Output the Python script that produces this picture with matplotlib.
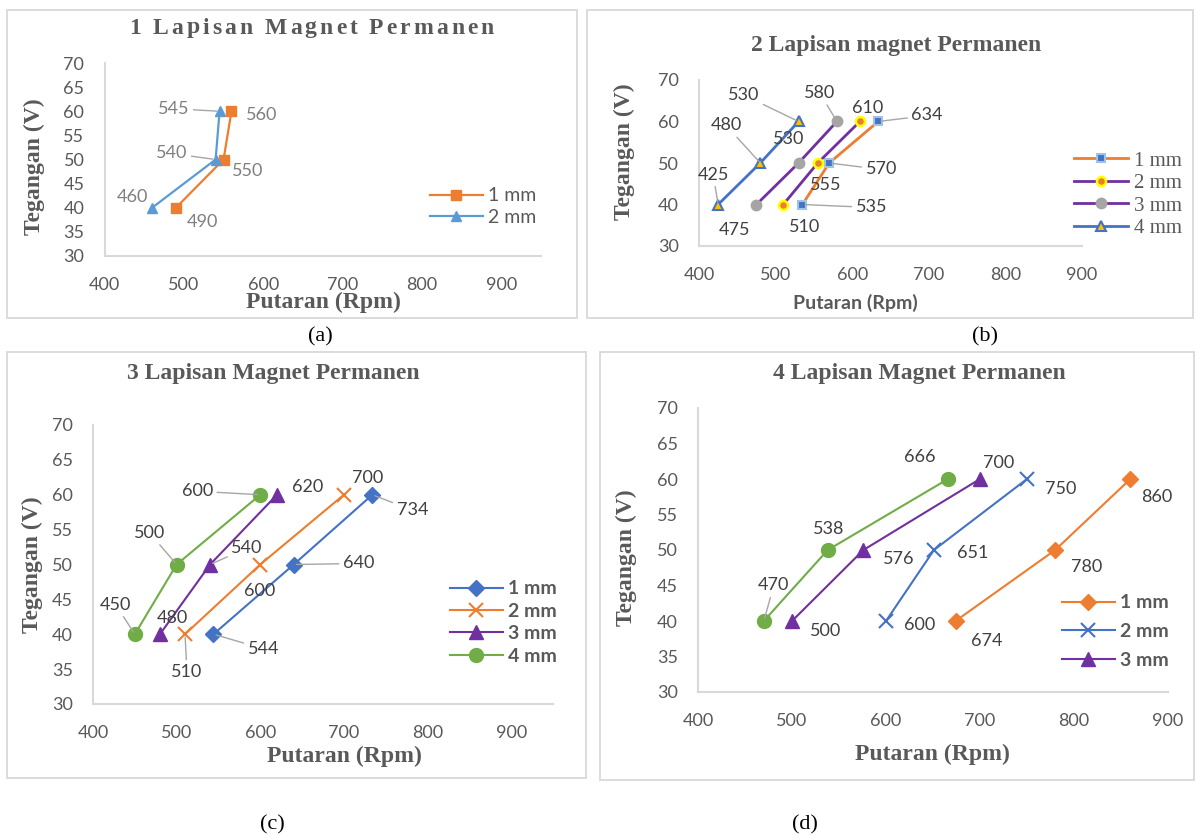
import matplotlib
matplotlib.use('Agg')
import matplotlib.pyplot as plt
from matplotlib.patches import Rectangle

# ---------------- data ----------------
volt = [40, 50, 60]
series_names = ['1 mm', '2 mm', '3 mm', '4 mm']
x_ticks = [400, 500, 600, 700, 800, 900]

a_1mm = [490, 550, 560]
a_2mm = [460, 540, 545]

b_1mm = [535, 570, 634]
b_2mm = [510, 555, 610]
b_3mm = [475, 530, 580]
b_4mm = [425, 480, 530]

c_1mm = [544, 640, 734]
c_2mm = [510, 600, 700]
c_3mm = [480, 540, 620]
c_4mm = [450, 500, 600]

d_1mm = [674, 780, 860]
d_2mm = [600, 651, 750]
d_3mm = [500, 576, 700]
d_4mm = [470, 538, 666]

titles = ['1 Lapisan Magnet Permanen', '2 Lapisan magnet Permanen',
          '3 Lapisan Magnet Permanen', '4 Lapisan Magnet Permanen']
captions = ['(a)', '(b)', '(c)', '(d)']
ylabel = 'Tegangan (V)'
xlabel = 'Putaran (Rpm)'

# ---------------- layout ----------------
W, H = 1195, 835
fig = plt.figure(figsize=(W / 100, H / 100), dpi=100)
fig.patch.set_facecolor('white')
renderer = fig.canvas.get_renderer()

GRAY = '#595959'
DARK = '#404040'
LEAD = '#A6A6A6'
SERIF = 'Liberation Serif'
SANS = 'Lato'


def fax(x0, y0, x1, y1):
    return fig.add_axes([x0 / W, 1 - y1 / H, (x1 - x0) / W, (y1 - y0) / H])


def ftext(x, y, s, **kw):
    return fig.text(x / W, 1 - y / H, s, **kw)


def text_w(s, **kw):
    t = fig.text(0, 0, s, **kw)
    w = t.get_window_extent(renderer).width
    t.remove()
    return w


def spaced_text(xc, y, s, track, **kw):
    """Draw a letter-spaced title (as the reference uses wider tracking)."""
    bar = text_w('|', **kw)
    adv = [text_w(c + '|', **kw) - bar for c in s]
    total = sum(adv) + track * (len(s) - 1)
    x = xc - total / 2
    for c, a in zip(s, adv):
        if c != ' ':
            ftext(x, y, c, ha='left', va='center', **kw)
        x += a + track


def border(x0, y0, x1, y1):
    fig.add_artist(Rectangle((x0 / W, 1 - y1 / H), (x1 - x0) / W, (y1 - y0) / H,
                             transform=fig.transFigure, fill=False,
                             edgecolor='#D9D9D9', lw=1.3))


def style_axes(ax, xmax, yticks):
    ax.set_xlim(400, xmax)
    ax.set_ylim(30, 70)
    ax.set_xticks(x_ticks)
    ax.set_yticks(yticks)
    for s in ['top', 'right']:
        ax.spines[s].set_visible(False)
    for s in ['left', 'bottom']:
        ax.spines[s].set_color('#D9D9D9')
        ax.spines[s].set_linewidth(1.5)
    ax.tick_params(axis='x', length=0, pad=15, labelsize=13, labelcolor=GRAY)
    ax.tick_params(axis='y', length=0, pad=14.5, labelsize=13, labelcolor=GRAY)
    for lab in ax.get_xticklabels() + ax.get_yticklabels():
        lab.set_family(SANS)
    ax.patch.set_alpha(0)


def data_labels(ax, xs, offs, leaders, color):
    for x, y, (dx, dy), ld in zip(xs, volt, offs, leaders):
        ap = dict(arrowstyle='-', color=LEAD, lw=1.0, shrinkA=1, shrinkB=2) if ld else None
        ax.annotate(str(x), (x, y), xytext=(dx, -dy), textcoords='offset pixels',
                    ha='center', va='center_baseline', fontsize=13, family=SANS,
                    color=color, arrowprops=ap, annotation_clip=False, zorder=5)


def legend(ax, handles, names, x, yc, font, spacing, hl):
    ax.legend(handles, names, loc='center left',
              bbox_to_anchor=(x / W, 1 - yc / H), bbox_transform=fig.transFigure,
              frameon=False, borderpad=0, borderaxespad=0, handlelength=hl,
              handletextpad=0.3, labelspacing=spacing, prop=font, labelcolor=GRAY)


TITLE_KW = dict(fontsize=17, family=SERIF, weight='bold', color=GRAY)

# ---------------- (a) ----------------
border(7, 10, 577, 318)
ax = fax(104.5, 63, 541, 256)
style_axes(ax, 950, range(30, 71, 5))
la1, = ax.plot(a_1mm, volt, color='#ED7D31', lw=1.6, marker='s', ms=6.5, clip_on=False)
la2, = ax.plot(a_2mm, volt, color='#5B9BD5', lw=1.6, marker='^', ms=7, clip_on=False)
data_labels(ax, a_1mm, [(27, 13), (24, 10.5), (30, 2)], [0, 0, 0], '#7F7F7F')
data_labels(ax, a_2mm, [(-20, -12), (-44, -7.5), (-46, -4)], [0, 1, 1], '#7F7F7F')
legend(ax, [la1, la2], series_names[:2], 430, 206.5,
       dict(family=SANS, size=14), 0.22, 2.7)
spaced_text(311.5, 28, titles[0], 3.0, **TITLE_KW)
ftext(34, 167, ylabel, ha='center', va='center', rotation=90, fontsize=17,
      family=SERIF, weight='bold', color=GRAY)
ftext(323, 302, xlabel, ha='center', va='center', fontsize=17, family=SERIF,
      weight='bold', color=GRAY)

# ---------------- (b) ----------------
border(587, 10, 1193, 318)
ax = fax(699, 80, 1082, 246)
style_axes(ax, 900, range(30, 71, 10))
lb1, = ax.plot(b_1mm, volt, color='#ED7D31', lw=2, marker='s', ms=6, mfc='#4472C4',
               mec='#9DC3E6', mew=1.5, clip_on=False)
lb2, = ax.plot(b_2mm, volt, color='#7030A0', lw=2, marker='o', ms=6.5, mfc='#ED7D31',
               mec='#FFFF00', mew=1.8, clip_on=False)
lb3, = ax.plot(b_3mm, volt, color='#7030A0', lw=2, marker='o', ms=7.5, mfc='#A5A5A5',
               mec='#A5A5A5', clip_on=False)
lb4, = ax.plot(b_4mm, volt, color='#4472C4', lw=2, marker='^', ms=7, mfc='#FFC000',
               mec='#4472C4', mew=1.5, clip_on=False)
data_labels(ax, b_1mm, [(69, 1.5), (52, 5), (49, -7.5)], [1, 1, 1], DARK)
data_labels(ax, b_2mm, [(21, 21.5), (8, 20), (8, -15)], [0, 0, 0], DARK)
data_labels(ax, b_3mm, [(-22, 24), (-10, -26), (-17, -30)], [0, 0, 1], DARK)
data_labels(ax, b_4mm, [(-5, -31.5), (-34, -39), (-55, -28)], [1, 1, 1], DARK)
legend(ax, [lb1, lb2, lb3, lb4], series_names, 1074, 194.5,
       dict(family=SERIF, size=15), 0.14, 2.6)
ftext(896, 45, titles[1], ha='center', va='center', **TITLE_KW)
ftext(624, 152, ylabel, ha='center', va='center', rotation=90, fontsize=17,
      family=SERIF, weight='bold', color=GRAY)
ftext(855, 303, xlabel, ha='center', va='center', fontsize=14, family=SANS,
      weight='bold', color=GRAY)

# ---------------- (c) ----------------
border(7, 352, 586, 778)
ax = fax(93, 425, 553, 704)
style_axes(ax, 950, range(30, 71, 5))
lc1, = ax.plot(c_1mm, volt, color='#4472C4', lw=1.5, marker='D', ms=8, clip_on=False)
lc2, = ax.plot(c_2mm, volt, color='#ED7D31', lw=1.5, marker='x', ms=10, mew=1.5, clip_on=False)
lc3, = ax.plot(c_3mm, volt, color='#7030A0', lw=1.5, marker='^', ms=10, clip_on=False)
lc4, = ax.plot(c_4mm, volt, color='#70AD47', lw=1.5, marker='o', ms=10, clip_on=False)
data_labels(ax, c_1mm, [(50, 13), (65, -2.5), (40, 14)], [1, 1, 1], DARK)
data_labels(ax, c_2mm, [(2, 36), (-1, 25), (24, -18)], [1, 0, 0], DARK)
data_labels(ax, c_3mm, [(12, -18), (37, -18), (31, -9)], [0, 1, 0], DARK)
data_labels(ax, c_4mm, [(-19, -31), (-27, -33), (-63, -5)], [1, 1, 1], DARK)
legend(ax, [lc1, lc2, lc3, lc4], series_names, 450, 622.5,
       dict(family=SANS, size=14, weight='bold'), 0.28, 2.7)
ftext(273, 373, titles[2], ha='center', va='center', **TITLE_KW)
ftext(32, 565, ylabel, ha='center', va='center', rotation=90, fontsize=17,
      family=SERIF, weight='bold', color=GRAY)
ftext(344, 756, xlabel, ha='center', va='center', fontsize=17, family=SERIF,
      weight='bold', color=GRAY)

# ---------------- (d) ----------------
border(600, 352, 1194, 780)
ax = fax(698, 408, 1168, 692)
style_axes(ax, 900, range(30, 71, 5))
ld1, = ax.plot(d_1mm, volt, color='#ED7D31', lw=1.5, marker='D', ms=8, clip_on=False)
ld2, = ax.plot(d_2mm, volt, color='#4472C4', lw=1.5, marker='x', ms=10, mew=1.5, clip_on=False)
ld3, = ax.plot(d_3mm, volt, color='#7030A0', lw=1.5, marker='^', ms=10, clip_on=False)
ld4, = ax.plot(d_4mm, volt, color='#70AD47', lw=1.5, marker='o', ms=10, clip_on=False)
data_labels(ax, d_1mm, [(31, 18), (31, 15), (26, 16)], [0, 0, 0], DARK)
data_labels(ax, d_2mm, [(34, 3), (39, 2), (33.5, 8)], [0, 0, 0], DARK)
data_labels(ax, d_3mm, [(34, 9), (35, 8), (19, -17)], [0, 0, 0], DARK)
data_labels(ax, d_4mm, [(10, -37), (1, -22), (-28.5, -24)], [1, 0, 0], DARK)
legend(ax, [ld1, ld2, ld3], series_names[:3], 1062, 631.5,
       dict(family=SANS, size=14, weight='bold'), 0.6, 2.7)
ftext(919, 373, titles[3], ha='center', va='center', **TITLE_KW)
ftext(626, 558, ylabel, ha='center', va='center', rotation=90, fontsize=17,
      family=SERIF, weight='bold', color=GRAY)
ftext(932, 754, xlabel, ha='center', va='center', fontsize=17, family=SERIF,
      weight='bold', color=GRAY)

# ---------------- captions ----------------
for (cx, cy), cap in zip([(320, 337), (985, 337), (272, 825), (805, 825)], captions):
    ftext(cx, cy, cap, ha='center', va='center', fontsize=16, family=SERIF, color='black')

fig.savefig('out.png', dpi=100)
